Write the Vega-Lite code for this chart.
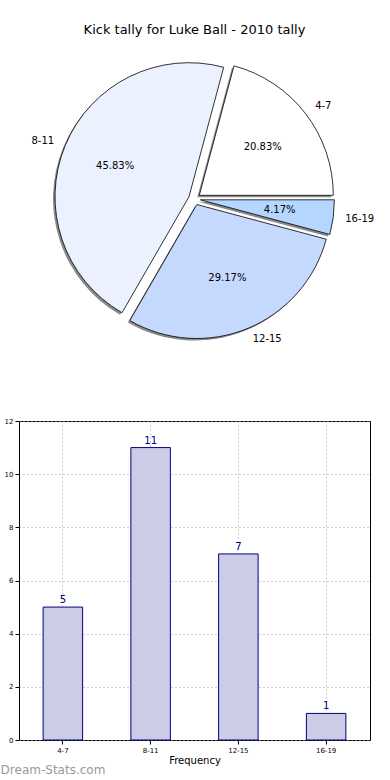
{
  "$schema": "https://vega.github.io/schema/vega-lite/v6.json",
  "padding": {"left": 0, "top": 24, "right": 0, "bottom": 0},
  "bounds": "flush",
  "spacing": 72,
  "config": {
    "font": "DejaVu Sans",
    "view": {"stroke": "#000000", "strokeWidth": 1}
  },
  "title": {"text": "Dream-Stats.com", "orient": "bottom", "anchor": "start", "color": "#9a9a9a", "fontSize": 12, "fontWeight": "normal", "dx": -3, "offset": -1},
  "datasets": {
    "kicks": [
      {"range": "4-7", "count": 5, "pct": "20.83%", "ord": 4},
      {"range": "8-11", "count": 11, "pct": "45.83%", "ord": 3},
      {"range": "12-15", "count": 7, "pct": "29.17%", "ord": 2},
      {"range": "16-19", "count": 1, "pct": "4.17%", "ord": 1}
    ]
  },
  "vconcat": [
    {
      "width": 351,
      "height": 300,
      "view": {"stroke": null},
      "title": {"text": "Kick tally for Luke Ball - 2010 tally", "fontSize": 13, "fontWeight": "normal", "color": "#000000", "offset": 12},
      "data": {"name": "kicks"},
      "encoding": {
        "theta": {"field": "count", "type": "quantitative", "stack": true, "scale": {"range": [1.5708, 7.854]}},
        "order": {"field": "ord", "type": "quantitative"}
      },
      "layer": [
        {
          "mark": {"type": "arc", "radius": 134, "fill": "#8a8a8a", "stroke": null,
            "xOffset": {"expr": "(datum.range=='4-7'?4.8:datum.range=='8-11'?-5.5:datum.range=='12-15'?2.3:5.9)-2"},
            "yOffset": {"expr": "(datum.range=='4-7'?-3.7:datum.range=='8-11'?-2.3:datum.range=='12-15'?5.5:0.8)+2"}}
        },
        {
          "mark": {"type": "arc", "radius": 134, "stroke": "#000000", "strokeWidth": 0.8,
            "xOffset": {"expr": "datum.range=='4-7'?4.8:datum.range=='8-11'?-5.5:datum.range=='12-15'?2.3:5.9"},
            "yOffset": {"expr": "datum.range=='4-7'?-3.7:datum.range=='8-11'?-2.3:datum.range=='12-15'?5.5:0.8"}},
          "encoding": {
            "color": {"field": "range", "type": "nominal", "legend": null,
              "scale": {"domain": ["4-7", "8-11", "12-15", "16-19"], "range": ["#ffffff", "#ebf1fe", "#c5d8fe", "#b5d6ff"]}}
          }
        },
        {
          "mark": {"type": "text", "radius": 80, "fontSize": 10, "color": "#000000",
            "xOffset": {"expr": "datum.range=='4-7'?4.8:datum.range=='8-11'?-5.5:datum.range=='12-15'?2.3:5.9"},
            "yOffset": {"expr": "datum.range=='4-7'?-3.7:datum.range=='8-11'?-2.3:datum.range=='12-15'?5.5:0.8"}},
          "encoding": {"text": {"field": "pct"}}
        },
        {
          "mark": {"type": "text", "radius": 146, "fontSize": 10, "color": "#000000",
            "align": {"expr": "datum.range=='8-11'?'right':'left'"},
            "xOffset": {"expr": "datum.range=='4-7'?4.8:datum.range=='8-11'?-5.5:datum.range=='12-15'?2.3:5.9"},
            "yOffset": {"expr": "datum.range=='4-7'?-3.7:datum.range=='8-11'?-2.3:datum.range=='12-15'?5.5:0.8"}},
          "encoding": {"text": {"field": "range"}}
        }
      ]
    },
    {
      "width": 351,
      "height": 319,
      "data": {"name": "kicks"},
      "encoding": {
        "x": {"field": "range", "type": "nominal", "sort": null,
          "scale": {"paddingInner": 0.55, "paddingOuter": 0.275},
          "axis": {"title": "Frequency", "titleFontSize": 10, "titleFontWeight": "normal", "titlePadding": 2, "labelAngle": 0, "labelFontSize": 7, "labelPadding": 2, "labelColor": "#000000", "bandPosition": 0.5, "grid": true, "gridDash": [1, 3], "gridColor": "#a0a0a0", "domain": false, "tickSize": 4, "tickColor": "#000000"}},
        "y": {"field": "count", "type": "quantitative",
          "scale": {"domain": [0, 12]},
          "axis": {"title": null, "values": [0, 2, 4, 6, 8, 10, 12], "labelFontSize": 7, "labelPadding": 2, "labelColor": "#000000", "grid": true, "gridDash": [1, 3], "gridColor": "#a0a0a0", "domain": false, "tickSize": 4, "tickColor": "#000000"}}
      },
      "layer": [
        {"mark": {"type": "bar", "fill": "#ccccE6", "stroke": "#000080", "strokeWidth": 1}},
        {"mark": {"type": "text", "dy": -7, "fontSize": 10, "color": "#000080"}, "encoding": {"text": {"field": "count"}}}
      ]
    }
  ]
}
